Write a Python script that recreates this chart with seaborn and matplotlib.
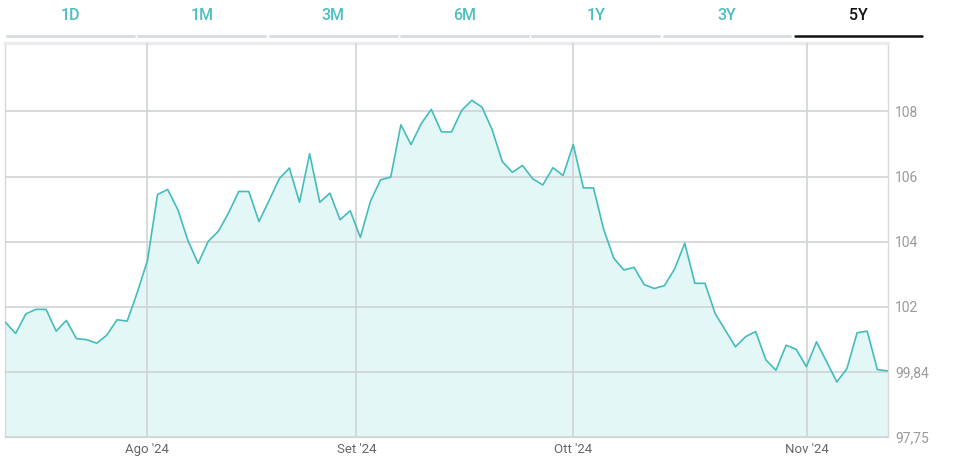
import numpy as np
import pandas as pd
import seaborn as sns
import matplotlib.pyplot as plt
from matplotlib.lines import Line2D

# dati (un punto per seduta)
prezzi = [101.52, 101.18, 101.78, 101.92, 101.92, 101.25, 101.58, 101.02, 100.99, 100.88,
          101.13, 101.60, 101.56, 102.44, 103.42, 105.45, 105.60, 104.98, 104.03, 103.33,
          104.01, 104.32, 104.88, 105.54, 105.54, 104.62, 105.26, 105.93, 106.26, 105.21,
          106.70, 105.21, 105.49, 104.67, 104.95, 104.13, 105.24, 105.90, 105.98, 107.59,
          106.98, 107.62, 108.06, 107.37, 107.37, 108.03, 108.34, 108.13, 107.44, 106.46,
          106.13, 106.34, 105.93, 105.74, 106.27, 106.03, 106.98, 105.65, 105.65, 104.38,
          103.49, 103.13, 103.21, 102.68, 102.56, 102.65, 103.16, 103.95, 102.72, 102.72,
          101.79, 101.28, 100.77, 101.08, 101.24, 100.37, 100.05, 100.82, 100.69, 100.16,
          100.92, 100.31, 99.69, 100.10, 101.20, 101.25, 100.07, 100.03]
mesi = ["Ago '24", "Set '24", "Ott '24", "Nov '24"]
mesi_pos = [13.95, 34.6, 55.95, 79.05]
y_ticks = [98, 100, 102, 104, 106, 108]
y_labels = ["97,75", "99,84", "102", "104", "106", "108"]
tabs = ["1D", "1M", "3M", "6M", "1Y", "3Y", "5Y"]
tab_attivo = "5Y"

df = pd.DataFrame({"i": np.arange(len(prezzi)), "prezzo": prezzi})

sns.set_style("white")
plt.rcParams['font.family'] = ['Roboto', 'DejaVu Sans']

teal = "#45bcbc"
fig = plt.figure(figsize=(9.54, 4.70), dpi=100)
ax = fig.add_axes([5/954, 33/470, 883/954, 394/470])

ax.fill_between(df["i"], df["prezzo"], y_ticks[0], color="#e3f7f6", lw=0, zorder=1)
sns.lineplot(data=df, x="i", y="prezzo", color=teal, lw=1.2, ax=ax, zorder=3)

ax.set_xlim(-0.05, len(prezzi) - 1 + 0.05)
ax.set_ylim(98, 110.1)
ax.set_xticks(mesi_pos)
ax.set_xticklabels(mesi, fontsize=9.5, color="#666666")
ax.set_yticks(y_ticks)
ax.set_yticklabels(y_labels, fontsize=10, color="#9a9a9a")
ax.yaxis.tick_right()
ax.tick_params(length=0, axis="y", pad=5)
ax.tick_params(length=0, axis="x", pad=4)
ax.set_xlabel("")
ax.set_ylabel("")

# griglia sopra l'area riempita
ax.set_axisbelow(False)
ax.grid(True, color="#cfd4d4", lw=1.2)
for g in ax.get_xgridlines() + ax.get_ygridlines():
    g.set_zorder(2)

for s in ["left", "right", "bottom"]:
    ax.spines[s].set_color("#d8d8d8")
    ax.spines[s].set_linestyle((0, (1, 1)))
    ax.spines[s].set_linewidth(1)
ax.spines["top"].set_color("#ececec")
ax.spines["top"].set_linewidth(2.5)

# barra delle schede in alto
x0, larg, gap = 7, 127, 4.3
for k, t in enumerate(tabs):
    a = x0 + k * (larg + gap)
    b = a + larg
    attivo = t == tab_attivo
    fig.add_artist(Line2D([a/954, b/954], [1 - 36/470] * 2,
                          color="#111111" if attivo else "#d9dee2",
                          lw=1.8 if attivo else 2.2, transform=fig.transFigure))
    fig.text((a + b) / 2 / 954, 1 - 16/470, t, ha="center", va="center",
             fontsize=11.5, fontweight="medium",
             color="#111111" if attivo else "#4cbfbf")

fig.savefig("out.png", dpi=100)
